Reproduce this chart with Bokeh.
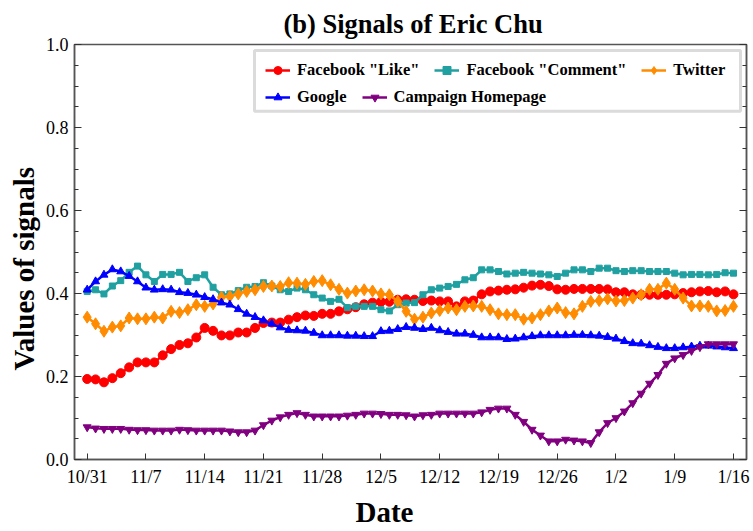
from bokeh.plotting import figure
from bokeh.models import (Range1d, FixedTicker, LinearAxis, Legend, LegendItem,
                          BoxAnnotation, PrintfTickFormatter, Title)
from bokeh.embed import file_html
from bokeh.resources import INLINE
import pandas as pd

# ---------------- data ----------------
dates = pd.date_range("2015-10-31", "2016-01-16", freq="D")
tick_labels = ["10/31", "11/7", "11/14", "11/21", "11/28", "12/5", "12/12",
               "12/19", "12/26", "1/2", "1/9", "1/16"]

fb_like = [0.194, 0.193, 0.186, 0.196, 0.208, 0.222, 0.234, 0.234, 0.234, 0.251, 0.266, 0.276, 0.280, 0.294,
           0.317, 0.310, 0.299, 0.299, 0.306, 0.306, 0.317, 0.329, 0.330, 0.330, 0.337, 0.343, 0.347,
           0.346, 0.351, 0.351, 0.357, 0.362, 0.367, 0.374, 0.378, 0.380, 0.380, 0.385, 0.386, 0.385,
           0.382, 0.383, 0.381, 0.381, 0.369, 0.381, 0.383, 0.398, 0.405, 0.407, 0.409, 0.410,
           0.414, 0.419, 0.421, 0.418, 0.410, 0.409, 0.411, 0.411, 0.411, 0.411, 0.410, 0.403, 0.403,
           0.398, 0.397, 0.397, 0.397, 0.397, 0.398, 0.401, 0.403, 0.405, 0.406, 0.403, 0.405, 0.398]

fb_comment = [0.405, 0.409, 0.399, 0.418, 0.431, 0.451, 0.466, 0.445, 0.429, 0.446, 0.446, 0.451, 0.429, 0.438,
              0.445, 0.415, 0.397, 0.399, 0.407, 0.415, 0.417, 0.426, 0.418, 0.409, 0.405, 0.413, 0.409,
              0.397, 0.389, 0.381, 0.386, 0.366, 0.369, 0.369, 0.369, 0.361, 0.358, 0.373, 0.377, 0.378,
              0.397, 0.409, 0.413, 0.417, 0.422, 0.433, 0.438, 0.457, 0.457, 0.453, 0.447, 0.449,
              0.451, 0.449, 0.447, 0.445, 0.441, 0.449, 0.457, 0.457, 0.453, 0.461, 0.461, 0.455, 0.453,
              0.455, 0.455, 0.453, 0.453, 0.453, 0.449, 0.445, 0.446, 0.446, 0.445, 0.446, 0.450, 0.449]

twitter = [0.343, 0.327, 0.309, 0.319, 0.322, 0.341, 0.339, 0.339, 0.343, 0.341, 0.357, 0.354, 0.361, 0.373,
           0.369, 0.375, 0.391, 0.393, 0.399, 0.405, 0.409, 0.417, 0.418, 0.417, 0.426, 0.425, 0.422,
           0.429, 0.431, 0.421, 0.410, 0.401, 0.406, 0.409, 0.406, 0.399, 0.397, 0.381, 0.357, 0.338,
           0.343, 0.353, 0.359, 0.365, 0.361, 0.369, 0.370, 0.369, 0.361, 0.351, 0.349, 0.349,
           0.338, 0.341, 0.349, 0.358, 0.365, 0.354, 0.351, 0.369, 0.381, 0.383, 0.387, 0.382, 0.383,
           0.389, 0.397, 0.410, 0.410, 0.425, 0.410, 0.389, 0.370, 0.370, 0.369, 0.358, 0.359, 0.369]

google = [0.409, 0.429, 0.445, 0.458, 0.453, 0.442, 0.429, 0.414, 0.409, 0.410, 0.409, 0.403, 0.401, 0.397,
          0.391, 0.386, 0.378, 0.373, 0.362, 0.351, 0.343, 0.335, 0.327, 0.318, 0.312, 0.311, 0.310,
          0.305, 0.299, 0.299, 0.299, 0.298, 0.298, 0.297, 0.297, 0.309, 0.310, 0.314, 0.319, 0.317,
          0.314, 0.317, 0.311, 0.307, 0.303, 0.303, 0.300, 0.294, 0.294, 0.294, 0.290, 0.291,
          0.294, 0.297, 0.299, 0.299, 0.299, 0.299, 0.300, 0.300, 0.299, 0.298, 0.295, 0.291, 0.285,
          0.280, 0.279, 0.275, 0.271, 0.268, 0.268, 0.270, 0.272, 0.274, 0.274, 0.272, 0.270, 0.268]

homepage = [0.078, 0.075, 0.074, 0.074, 0.074, 0.072, 0.071, 0.071, 0.070, 0.070, 0.070, 0.072, 0.071, 0.070,
            0.070, 0.070, 0.070, 0.068, 0.066, 0.066, 0.070, 0.083, 0.094, 0.102, 0.108, 0.112, 0.108,
            0.104, 0.104, 0.104, 0.104, 0.106, 0.108, 0.111, 0.111, 0.110, 0.108, 0.108, 0.107, 0.104,
            0.107, 0.108, 0.111, 0.111, 0.111, 0.111, 0.111, 0.114, 0.120, 0.123, 0.123, 0.108,
            0.091, 0.072, 0.058, 0.044, 0.044, 0.048, 0.046, 0.044, 0.040, 0.066, 0.088, 0.100, 0.116,
            0.136, 0.159, 0.183, 0.204, 0.231, 0.244, 0.252, 0.262, 0.271, 0.278, 0.278, 0.278, 0.278]

days = [(d - dates[0]).days for d in dates]
tick_days = days[::7]

# ---------------- figure ----------------
SERIF = "Liberation Serif"
X0, X1 = -1.51, 78.55
W, H = 753, 531
FL, FR, FT, FB = 74, 746, 44, 460  # frame edges in page px

def px2x(px):
    return X0 + (px - FL) * (X1 - X0) / (FR - FL)
def py2y(py):
    return (FB - py) / (FB - FT)

p = figure(width=W, height=H, x_range=Range1d(X0, X1), y_range=Range1d(0, 1),
           output_backend="svg", toolbar_location=None,
           min_border_left=FL, min_border_right=W - FR,
           min_border_top=FT, min_border_bottom=H - FB)
p.grid.visible = False
p.background_fill_color = "white"
p.border_fill_color = "white"
p.outline_line_color = "#555555"
p.outline_line_width = 1.5

p.title.text = "(b) Signals of Eric Chu"
p.title.align = "left"
p.title.offset = 209
p.title.vertical_align = "bottom"
p.title.standoff = 12
p.title.text_font = SERIF
p.title.text_font_style = "bold"
p.title.text_font_size = "26.5px"
p.title.text_color = "black"

# x axis
xa = p.xaxis[0]
xa.ticker = FixedTicker(ticks=tick_days, minor_ticks=[])
xa.major_label_overrides = {d: lab for d, lab in zip(tick_days, tick_labels)}
xa.major_tick_in = 6
xa.major_tick_out = 0
xa.minor_tick_in = 0
xa.minor_tick_out = 0
xa.major_label_standoff = 7
xa.major_label_text_font = SERIF
xa.major_label_text_font_style = "normal"
xa.major_label_text_font_size = "18px"
xa.major_label_text_color = "black"
xa.axis_line_color = "#555555"
xa.axis_line_width = 1.5
xa.major_tick_line_color = "#333333"

yticks = [0.0, 0.2, 0.4, 0.6, 0.8, 1.0]
yminor = [round(0.05 * k, 2) for k in range(21)]

ya = p.yaxis[0]
ya.ticker = FixedTicker(ticks=yticks, minor_ticks=yminor)
ya.formatter = PrintfTickFormatter(format="%.1f")
ya.major_tick_in = 7
ya.major_tick_out = 0
ya.minor_tick_in = 4
ya.minor_tick_out = 0
ya.major_label_standoff = 6
ya.major_label_text_font = SERIF
ya.major_label_text_font_style = "normal"
ya.major_label_text_font_size = "18px"
ya.major_label_text_color = "black"
ya.axis_line_color = "#555555"
ya.axis_line_width = 1.5
ya.major_tick_line_color = "#333333"
ya.minor_tick_line_color = "#333333"

ra = LinearAxis(ticker=FixedTicker(ticks=yticks, minor_ticks=yminor))
ra.major_label_overrides = {t: "" for t in yticks}
ra.major_label_standoff = 0
ra.major_tick_in = 7
ra.major_tick_out = 0
ra.minor_tick_in = 4
ra.minor_tick_out = 0
ra.axis_line_color = "#555555"
ra.axis_line_width = 1.5
ra.major_tick_line_color = "#333333"
ra.minor_tick_line_color = "#333333"
p.add_layout(ra, "right")

# axis titles (placed as titles so they can sit off-centre like the original)
xlab = Title(text="Date", align="left", offset=281, standoff=8,
             text_font=SERIF, text_font_style="bold", text_font_size="29px",
             text_color="black")
p.add_layout(xlab, "below")
ylab = Title(text="Values of signals", align="left", offset=89, standoff=5,
             text_font=SERIF, text_font_style="bold", text_font_size="29px",
             text_color="black")
p.add_layout(ylab, "left")

# ---------------- series ----------------
series = [
    ('Facebook "Like"', fb_like, "#FF0000", "circle", 9),
    ('Facebook "Comment"', fb_comment, "#20A0A0", "square", 6),
    ("Twitter", twitter, "#FF8C00", "diamond", 12),
    ("Google", google, "#0000FF", "triangle", 8),
    ("Campaign Homepage", homepage, "#800080", "inverted_triangle", 8),
]
items = []
for label, vals, col, mk, sz in series:
    lr = p.line(days, vals, line_color=col, line_width=2.5)
    sr = p.scatter(days, vals, marker=mk, size=sz, fill_color=col, line_color=col)
    items.append(LegendItem(label=label, renderers=[lr, sr]))

# ---------------- legend ----------------
box = BoxAnnotation(left=px2x(254), right=px2x(740), top=py2y(50), bottom=py2y(111),
                    fill_color="white", fill_alpha=1.0, line_color="#888888", line_width=3)
p.add_layout(box)

def make_legend(its, loc):
    lg = Legend(items=its, location=loc, orientation="horizontal",
                padding=0, spacing=15, margin=0, label_standoff=7,
                glyph_width=25, glyph_height=20, label_height=20,
                border_line_alpha=0, background_fill_alpha=0)
    lg.label_text_font = SERIF
    lg.label_text_font_style = "bold"
    lg.label_text_font_size = "16.5px"
    lg.label_text_color = "black"
    return lg

p.add_layout(make_legend(items[:3], (265 - FL, (FB - FT) - 37)))
p.add_layout(make_legend(items[3:], (265 - FL, (FB - FT) - 64)))

open("out.html", "w").write(file_html(p, INLINE))
